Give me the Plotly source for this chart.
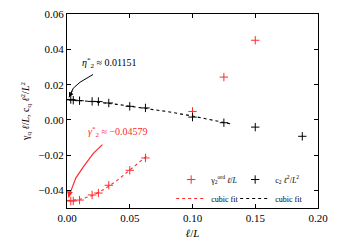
import plotly.graph_objects as go

# ---- data ----
ell_over_L = [0.003, 0.005, 0.01, 0.02, 0.025, 0.0333, 0.05, 0.0625, 0.1, 0.125, 0.15, 0.1875]
gamma_ord = [-0.0460, -0.0460, -0.0455, -0.0426, -0.0415, -0.0371, -0.0286, -0.0216, 0.0048, 0.0243, 0.0452]
c2_vals = [0.0116, 0.0112, 0.0109, 0.0105, 0.0104, 0.0096, 0.0077, 0.0068, 0.0016, -0.0016, -0.0041, -0.0093]

fit_red_x = [0.0, 0.005, 0.01, 0.02, 0.03, 0.04, 0.05, 0.06, 0.065]
fit_red_y = [-0.0458, -0.0457, -0.0452, -0.0430, -0.0392, -0.0343, -0.0286, -0.0226, -0.0197]
fit_blk_x = [0.0, 0.01, 0.02, 0.04, 0.06, 0.08, 0.10, 0.12, 0.13]
fit_blk_y = [0.01151, 0.0110, 0.0104, 0.0088, 0.0069, 0.0047, 0.0022, -0.0008, -0.0022]

arrow_blk_x = [0.0208, 0.0150, 0.0104, 0.0050, 0.0016]
arrow_blk_y = [0.0258, 0.0234, 0.0214, 0.0180, 0.0128]
arrow_red_x = [0.0282, 0.021, 0.013, 0.0070, 0.0038, 0.0012]
arrow_red_y = [-0.0140, -0.0190, -0.0267, -0.0330, -0.0390, -0.0440]

eta_star = 0.01151
gamma_star = -0.04579

x_ticks = [0.0, 0.05, 0.10, 0.15, 0.20]
y_ticks = [-0.04, -0.02, 0.0, 0.02, 0.04, 0.06]

RED = "#ff2a2a"
FONT = "Liberation Serif"

fig = go.Figure()

# curved arrows (drawn as lines)
fig.add_trace(go.Scatter(x=arrow_blk_x, y=arrow_blk_y, mode="lines",
                         line=dict(color="black", width=1), showlegend=False, hoverinfo="skip"))
fig.add_trace(go.Scatter(x=arrow_red_x, y=arrow_red_y, mode="lines",
                         line=dict(color=RED, width=1.2), showlegend=False, hoverinfo="skip"))

# data + fits
fig.add_trace(go.Scatter(x=ell_over_L[:len(gamma_ord)], y=gamma_ord, mode="markers",
                         marker=dict(symbol="cross-thin", size=6, line=dict(color=RED, width=1)),
                         name="γ<sub>2</sub><sup>ord</sup> <i>ℓ</i>/<i>L</i>", legend="legend"))
fig.add_trace(go.Scatter(x=fit_red_x, y=fit_red_y, mode="lines",
                         line=dict(color=RED, width=1.1, dash="dot"),
                         name="cubic fit", legend="legend"))
fig.add_trace(go.Scatter(x=ell_over_L, y=c2_vals, mode="markers",
                         marker=dict(symbol="cross-thin", size=6, line=dict(color="black", width=1)),
                         name="c<sub>2</sub> <i>ℓ</i><sup>2</sup>/<i>L</i><sup>2</sup>", legend="legend2"))
fig.add_trace(go.Scatter(x=fit_blk_x, y=fit_blk_y, mode="lines",
                         line=dict(color="black", width=1.1, dash="dot"),
                         name="cubic fit", legend="legend2"))

# arrowheads
fig.add_annotation(x=arrow_blk_x[-1], y=arrow_blk_y[-1], ax=4, ay=-8, text="",
                   showarrow=True, arrowhead=2, arrowsize=1, arrowwidth=1, arrowcolor="black")
fig.add_annotation(x=arrow_red_x[-1], y=arrow_red_y[-1], ax=2, ay=-8, text="",
                   showarrow=True, arrowhead=2, arrowsize=1, arrowwidth=1.2, arrowcolor=RED)

# labels
fig.add_annotation(x=0.0336, y=0.0323, text=f"<i>η</i><sup>*</sup><sub>2</sub> ≈ {eta_star}",
                   showarrow=False, font=dict(family=FONT, size=10, color="black"))
fig.add_annotation(x=0.0408, y=-0.0071, text=f"<i>γ</i><sup>*</sup><sub>2</sub> ≈ −{abs(gamma_star)}",
                   showarrow=False, font=dict(family=FONT, size=10, color=RED))

axis_common = dict(showline=True, linecolor="black", linewidth=1, mirror="ticks",
                   ticks="inside", ticklen=4, tickcolor="black", showgrid=False, zeroline=False,
                   ticklabeloverflow="allow",
                   tickfont=dict(family=FONT, size=11, color="black"))

legend_font = dict(family=FONT, size=8, color="black")

# the page body adds an 8 px offset, so the figure is 8 px smaller than the window
fig.update_layout(
    template="none",
    width=330, height=242,
    margin=dict(l=59, r=20, t=6, b=42),
    plot_bgcolor="white", paper_bgcolor="white",
    font=dict(family=FONT, size=10, color="black"),
    xaxis=dict(range=[0, 0.2], tickvals=x_ticks, tickformat=".2f",
               title=dict(text="<i>ℓ</i>/<i>L</i>", font=dict(family=FONT, size=11, color="black"), standoff=6),
               **axis_common),
    yaxis=dict(range=[-0.05, 0.0601], tickvals=y_ticks, tickformat=".2f",
               title=dict(text="γ<sub>q</sub> <i>ℓ</i>/<i>L</i>, c<sub>q</sub> <i>ℓ</i><sup>2</sup>/<i>L</i><sup>2</sup>",
                          font=dict(family=FONT, size=10, color="black"), standoff=6),
               **axis_common),
    legend=dict(x=0.415, y=-0.026, xanchor="left", yanchor="bottom", bgcolor="rgba(0,0,0,0)",
                font=legend_font, tracegroupgap=0, itemwidth=30),
    legend2=dict(x=0.67, y=-0.026, xanchor="left", yanchor="bottom", bgcolor="rgba(0,0,0,0)",
                 font=legend_font, tracegroupgap=0, itemwidth=30),
)

fig.write_html("out.html")
